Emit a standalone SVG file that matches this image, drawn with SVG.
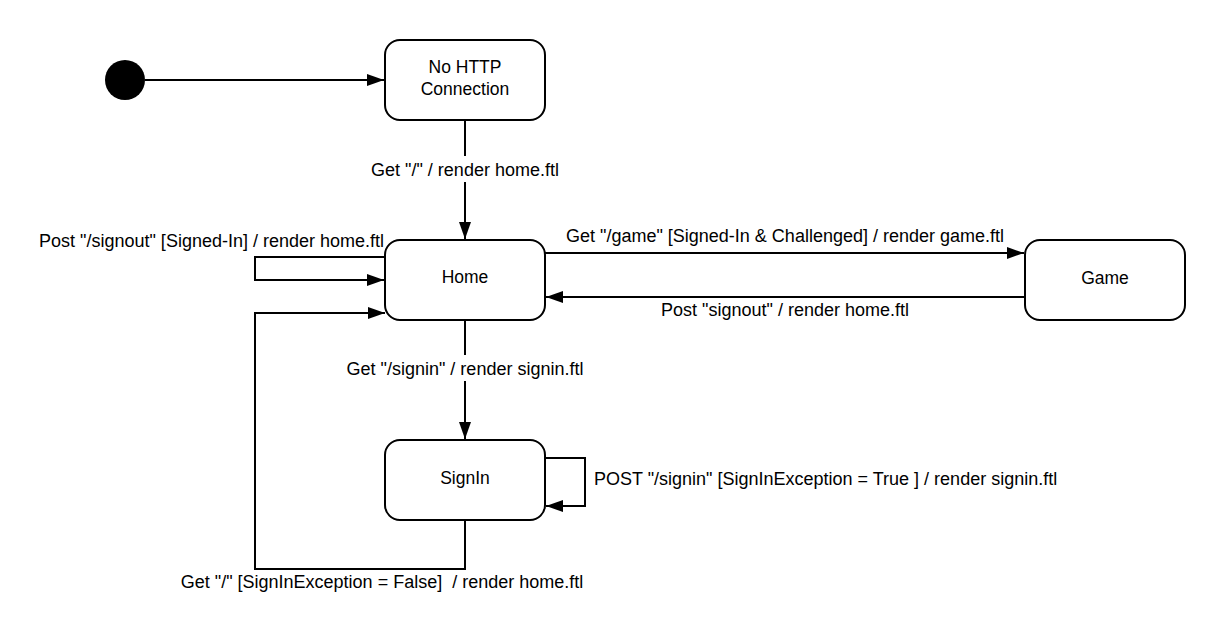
<svg xmlns="http://www.w3.org/2000/svg" width="1225" height="636" viewBox="0 0 1225 636">
  <style>
    .node { fill: #ffffff; stroke: #000000; stroke-width: 2; }
    .ntext { font-family: "Liberation Sans", Arial, sans-serif; font-size: 17.5px; fill: #000000; text-anchor: middle; }
    .edge { fill: none; stroke: #000000; stroke-width: 2; marker-end: url(#arrow); }
    .etext { font-family: "Liberation Sans", Arial, sans-serif; font-size: 18px; fill: #000000; white-space: pre; }
    .bg { fill: #ffffff; stroke: none; }
  </style>
  <defs>
    <marker id="arrow" markerUnits="userSpaceOnUse" markerWidth="18" markerHeight="13" refX="17" refY="6" orient="auto">
      <path d="M0,0 L17,6 L0,12 Z" fill="#000000"/>
    </marker>
  </defs>
  <rect width="1225" height="636" fill="#ffffff"/>

  <g id="connectors">
    <path class="edge" d="M145,80 H384"/>
    <path class="edge" d="M465,120 V239"/>
    <path class="edge" d="M545,253 H1024"/>
    <path class="edge" d="M1025,297 H546"/>
    <path class="edge" d="M385,257 H255 V280 H384"/>
    <path class="edge" d="M465,320 V439"/>
    <path class="edge" d="M545,458 H585 V506 H546"/>
    <path class="edge" d="M465,520 V569 H255 V313 H385"/>

    <rect class="bg" x="369" y="156" width="192" height="26"/>
    <text class="etext" x="465" y="176" text-anchor="middle">Get "/" / render home.ftl</text>
    <text class="etext" x="785" y="242" text-anchor="middle">Get "/game" [Signed-In &amp; Challenged] / render game.ftl</text>
    <text class="etext" x="785" y="316" text-anchor="middle">Post "signout" / render home.ftl</text>
    <text class="etext" x="384" y="247" text-anchor="end">Post "/signout" [Signed-In] / render home.ftl</text>
    <rect class="bg" x="344" y="355" width="242" height="26"/>
    <text class="etext" x="465" y="375" text-anchor="middle">Get "/signin" / render signin.ftl</text>
    <text class="etext" x="594" y="485">POST "/signin" [SignInException = True ] / render signin.ftl</text>
    <text class="etext" x="382" y="588" text-anchor="middle">Get "/" [SignInException = False]  / render home.ftl</text>
  </g>

  <g id="initial">
    <circle cx="125" cy="80" r="20" fill="#000000"/>
  </g>

  <g id="no-http">
    <rect class="node" x="385" y="40" width="160" height="80" rx="15" ry="15"/>
    <text class="ntext" x="465" y="73">No HTTP</text>
    <text class="ntext" x="465" y="95">Connection</text>
  </g>

  <g id="home">
    <rect class="node" x="385" y="240" width="160" height="80" rx="15" ry="15"/>
    <text class="ntext" x="465" y="283">Home</text>
  </g>

  <g id="game">
    <rect class="node" x="1025" y="240" width="160" height="80" rx="15" ry="15"/>
    <text class="ntext" x="1105" y="284">Game</text>
  </g>

  <g id="signin">
    <rect class="node" x="385" y="440" width="160" height="80" rx="15" ry="15"/>
    <text class="ntext" x="465" y="484">SignIn</text>
  </g>
</svg>
